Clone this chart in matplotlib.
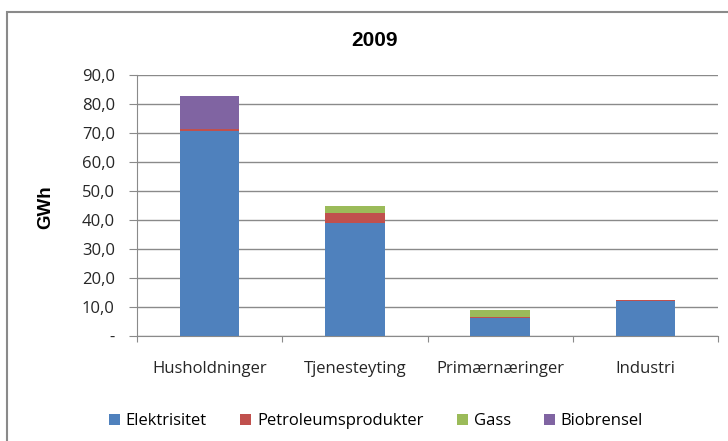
import matplotlib
matplotlib.use("Agg")
import matplotlib.pyplot as plt
import numpy as np
from matplotlib.patches import Rectangle

plt.rcParams['font.family'] = ['Open Sans', 'DejaVu Sans']

# data (GWh, 2009)
sectors = ["Husholdninger", "Tjenesteyting", "Primærnæringer", "Industri"]
elektrisitet = [70.8, 39.0, 6.2, 12.0]
petroleum = [0.7, 3.3, 0.4, 0.2]
gass = [0.0, 2.4, 2.2, 0.2]
biobrensel = [11.5, 0.0, 0.0, 0.0]

series = [("Elektrisitet", elektrisitet, "#4F81BD"),
          ("Petroleumsprodukter", petroleum, "#C0504D"),
          ("Gass", gass, "#9BBB59"),
          ("Biobrensel", biobrensel, "#8064A2")]

fig = plt.figure(figsize=(7.28, 4.41), dpi=100)

# outer chart border (top and left visible, rest cut off)
fig.patches.append(Rectangle((7/728, -0.1), 1.2, 1 - 12/441 + 0.1,
                             transform=fig.transFigure, fill=False,
                             edgecolor="#8a8a8a", linewidth=1.5))

ax = fig.add_axes([137/728, 1 - 335.7/441, 581/728, (335.7 - 75.3)/441])

x = np.arange(len(sectors))
bottom = np.zeros(len(sectors))
for name, vals, col in series:
    ax.bar(x, vals, width=0.41, bottom=bottom, color=col, label=name,
           edgecolor="none", zorder=3)
    bottom += np.array(vals)

ax.set_xlim(-0.5, 3.5)
ax.set_ylim(0, 90)
yt = np.arange(0, 91, 10)
ax.set_yticks(yt)
ax.set_yticklabels(["-" if v == 0 else ("%.1f" % v).replace(".", ",") for v in yt],
                   fontsize=12, color="#262626")
ax.tick_params(axis="y", length=6, pad=10, color="#8a8a8a")
ax.yaxis.grid(True, color="#8a8a8a", linewidth=1, zorder=0)

ax.set_xticks(np.arange(-0.5, 4, 1))
ax.set_xticklabels([])
ax.tick_params(axis="x", which="major", length=4, color="#8a8a8a")
ax.set_xticks(x, minor=True)
ax.set_xticklabels(sectors, minor=True, fontsize=12, color="#262626")
ax.tick_params(axis="x", which="minor", length=0, pad=18)

for s in ["top", "right"]:
    ax.spines[s].set_visible(False)
for s in ["left", "bottom"]:
    ax.spines[s].set_color("#8a8a8a")

fig.text(45.5/728, 1 - 207/441, "GWh", rotation=90, ha="center", va="center",
         fontsize=13.5, fontweight="bold", family=["Liberation Sans"])
fig.text(374.5/728, 1 - 40.5/441, "2009", ha="center", va="center",
         fontsize=15, fontweight="bold", family=["Liberation Sans"])

leg = fig.legend(loc="center", bbox_to_anchor=(376/728, 1 - 421/441), ncol=4,
                 frameon=False, fontsize=12, handlelength=0.66, handleheight=0.66,
                 columnspacing=2.0, handletextpad=0.35)

fig.savefig("out.png", dpi=100)
